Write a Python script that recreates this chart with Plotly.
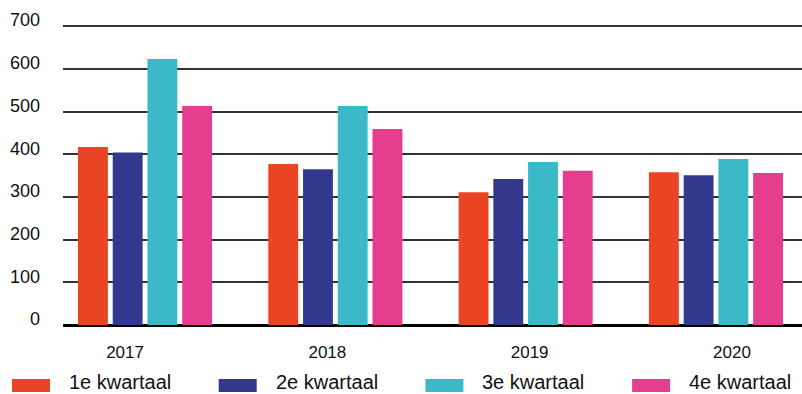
import plotly.graph_objects as go

# Data
years = ["2017", "2018", "2019", "2020"]
q1 = [417, 377, 311, 358]
q2 = [404, 365, 342, 351]
q3 = [623, 513, 382, 389]
q4 = [513, 459, 361, 356]

series_names = ["1e kwartaal", "2e kwartaal", "3e kwartaal", "4e kwartaal"]
series_values = [q1, q2, q3, q4]
colors = ["#E94424", "#32398D", "#3CB9C8", "#E63E8F"]

FONT = "Liberation Sans, Arial, sans-serif"

W, H = 802, 394
L, R, T, B = 63, 0, 24, 69
pw, ph = W - L - R, H - T - B

xs = list(range(len(years)))

fig = go.Figure()
for name, vals, col in zip(series_names, series_values, colors):
    fig.add_trace(go.Bar(x=xs, y=vals, name=name, marker=dict(color=col, line=dict(width=0)),
                         showlegend=False))


def px_x(p):
    return (p - L) / pw


def px_y(p):
    return (H - B - p) / ph


# Custom legend along the bottom (wide flat swatches)
shapes = []
annotations = []
for i, (name, col) in enumerate(zip(series_names, colors)):
    x0 = 12 + 206.7 * i
    shapes.append(dict(type="rect", xref="paper", yref="paper",
                       x0=px_x(x0), x1=px_x(x0 + 38), y0=px_y(392), y1=px_y(379),
                       fillcolor=col, line=dict(width=0)))
    annotations.append(dict(text=name, xref="paper", yref="paper", x=px_x(x0 + 56), y=px_y(394),
                            xanchor="left", yanchor="bottom", showarrow=False, borderpad=0,
                            font=dict(family=FONT, size=20, color="#111111")))

# year labels sit a little off the group centres in the original
tick_pos = [i * 1.063 - 0.105 for i in xs]

fig.update_layout(
    width=W, height=H,
    margin=dict(l=L, r=R, t=T, b=B),
    paper_bgcolor="white",
    plot_bgcolor="white",
    barmode="group",
    bargap=0.27,
    bargroupgap=0.14,
    font=dict(family=FONT, size=17, color="#111111"),
    shapes=shapes,
    annotations=annotations,
    xaxis=dict(range=[-0.431, 3.452], tickvals=tick_pos, ticktext=years,
               showgrid=False, zeroline=False, showline=False, ticks="",
               ticklabelstandoff=15, tickfont=dict(size=17)),
    yaxis=dict(range=[0, 705], tickvals=[0, 100, 200, 300, 400, 500, 600, 700],
               showgrid=True, gridcolor="#333333", gridwidth=1.5,
               zeroline=True, zerolinecolor="#000000", zerolinewidth=3,
               ticks="", ticklabelstandoff=22, ticklabelshift=-6, tickfont=dict(size=18)),
)

fig.write_html("out.html", config={"displayModeBar": False},
               post_script="document.body.style.margin='0';document.body.style.padding='0';")
